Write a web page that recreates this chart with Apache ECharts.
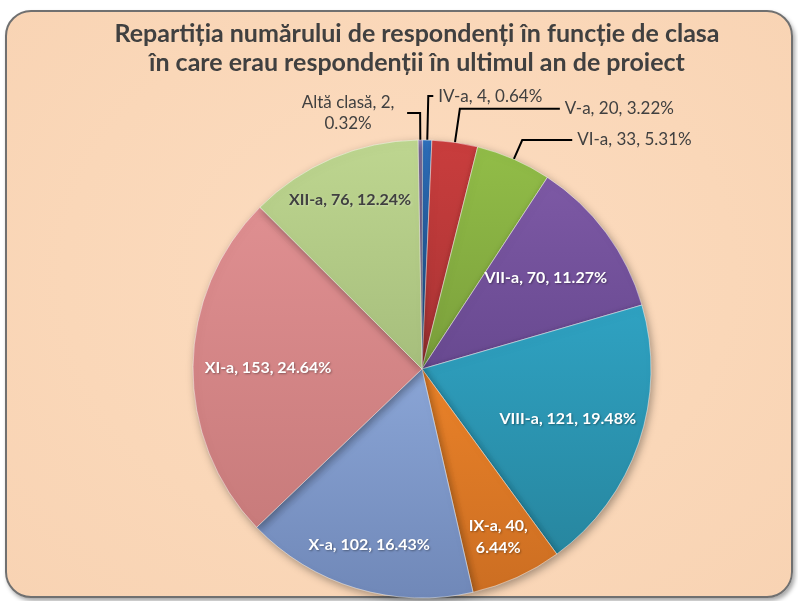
<!DOCTYPE html>
<html>
<head>
<meta charset="utf-8">
<script src="https://cdn.jsdelivr.net/npm/echarts@6/dist/echarts.min.js"></script>
<style>
body{margin:0;background:#fff;}
#frame{position:absolute;left:5px;top:10px;width:784px;height:584px;border:2px solid #707070;border-radius:26px;
  background:radial-gradient(ellipse at 50% 45%, #fcdcc0 0%, #fad7b8 60%, #f8d3b3 100%);
  box-shadow:2px 3px 4px rgba(0,0,0,0.35);}
#main{position:absolute;left:0;top:0;width:798px;height:601px;}
</style>
</head>
<body>
<div id="frame"></div>
<div id="main"></div>
<script>
// date extrase din grafic (ordine in sensul acelor de ceasornic, de sus)
var categorii = ['Altă clasă','IV-a','V-a','VI-a','VII-a','VIII-a','IX-a','X-a','XI-a','XII-a'];
var valori = [2, 4, 20, 33, 70, 121, 40, 102, 153, 76];
var culori = ['#9c88bf','#2f72c0','#c93d3d','#92bd48','#7d59a5','#2fa2c2','#ea8229','#8aa5d6','#df8f91','#bed690'];
var culoriInchise = ['#8a76ad','#275fa2','#a83434','#7a9f3b','#684990','#27869f','#cc6e22','#7088b8','#c87b7b','#a6be7c'];
// eticheta: 'out' = in afara cu linie, 'far' = in interior spre margine, 'mid' = in interior mai aproape de centru
var pozEticheta = ['out','out','out','out','mid','mid','far','far','mid','far'];
var etichetaNeagra = [false,false,false,false,false,false,false,false,false,true];
// lungimile liniilor de legatura pentru etichetele exterioare
var linieLung1 = [27, 44, 34, 21];
var linieLung2 = [13, 5, 100, 50];

var font = 'Lato';
var total = 0;
for (var k = 0; k < valori.length; k++) total += valori[k];

var myChart = echarts.init(document.getElementById('main'));

function textEticheta(p){
    var pct = (p.value / total * 100).toFixed(2) + '%';
    if (p.name == 'Altă clasă') return '{c|' + p.name + ', ' + p.value + ',}\n{c|' + pct + '}';
    if (p.name == 'IX-a') return p.name + ', ' + p.value + ',\n' + pct;
    return p.name + ', ' + p.value + ', ' + pct;
}

function dateMain(){
    var d = [];
    for (var i = 0; i < valori.length; i++) {
        var out = pozEticheta[i] == 'out';
        d.push({
            name: categorii[i],
            value: valori[i],
            itemStyle: {
                color: {
                    type: 'linear', x: 0, y: 0, x2: 0, y2: 1,
                    colorStops: [{offset: 0, color: culori[i]}, {offset: 1, color: culoriInchise[i]}]
                }
            },
            label: {show: out},
            labelLine: out ? {show: true, length: linieLung1[i], length2: linieLung2[i]} : {show: false}
        });
    }
    return d;
}
function dateEtichete(tip){
    var d = [];
    for (var i = 0; i < valori.length; i++) {
        d.push({
            name: categorii[i],
            value: valori[i],
            label: {
                show: pozEticheta[i] == tip,
                color: etichetaNeagra[i] ? '#404040' : '#ffffff',
                textShadowColor: etichetaNeagra[i] ? 'rgba(255,255,255,0.3)' : 'rgba(0,0,0,0.35)'
            }
        });
    }
    return d;
}
function serieEtichete(tip, r0){
    return {
        type: 'pie',
        center: [422, 369],
        radius: [r0, 229],
        startAngle: 91,
        clockwise: true,
        silent: true,
        itemStyle: {color: 'rgba(0,0,0,0)'},
        label: {
            position: 'inside',
            formatter: textEticheta,
            fontFamily: font, fontSize: 16, fontWeight: 'bold', lineHeight: 22,
            textShadowBlur: 2, textShadowOffsetX: 1, textShadowOffsetY: 1
        },
        labelLine: {show: false},
        emphasis: {disabled: true},
        data: dateEtichete(tip)
    };
}

option = {
    title: {
        text: 'Repartiția numărului de respondenți în funcție de clasa\nîn care erau respondenții în ultimul an de proiect',
        left: 412,
        textAlign: 'center',
        top: 14,
        textStyle: {fontFamily: font, fontSize: 25, fontWeight: 'bold', color: '#404040', lineHeight: 29}
    },
    series: [{
        type: 'pie',
        center: [422, 369],
        radius: 229,
        startAngle: 91,
        clockwise: true,
        avoidLabelOverlap: false,
        itemStyle: {borderColor: 'rgba(255,255,255,0.25)', borderWidth: 1,
            shadowBlur: 8, shadowColor: 'rgba(0,0,0,0.35)', shadowOffsetX: 2, shadowOffsetY: 3},
        label: {
            position: 'outside',
            formatter: textEticheta,
            fontFamily: font, fontSize: 17, color: '#404040', lineHeight: 21,
            rich: {c: {fontFamily: font, fontSize: 17, color: '#404040', lineHeight: 21, width: 108, align: 'center'}}
        },
        labelLine: {smooth: false, lineStyle: {color: '#000', width: 2}},
        emphasis: {disabled: true},
        data: dateMain()
    },
    serieEtichete('far', 133),
    serieEtichete('mid', 73)]
};
myChart.setOption(option);
</script>
</body>
</html>
